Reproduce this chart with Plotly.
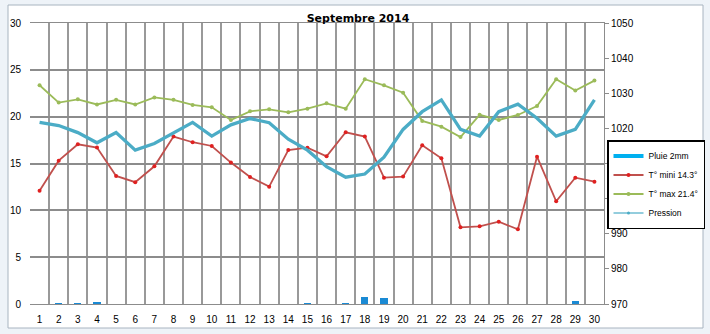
import plotly.graph_objects as go

days = list(range(1, 31))
tick_labels = [str(d) for d in days]

t_min = [12.1, 15.3, 17.05, 16.7, 13.67, 13.0, 14.7, 17.87, 17.27, 16.87,
         15.1, 13.56, 12.53, 16.44, 16.69, 15.77, 18.33, 17.87, 13.49, 13.6,
         16.94, 15.55, 8.19, 8.29, 8.79, 7.97, 15.73, 10.96, 13.49, 13.06]

t_max = [23.35, 21.5, 21.85, 21.3, 21.8, 21.3, 22.05, 21.8, 21.25, 21.0,
         19.65, 20.57, 20.78, 20.46, 20.85, 21.42, 20.85, 24.0, 23.35, 22.55,
         19.55, 18.93, 17.83, 20.2, 19.65, 20.18, 21.14, 23.99, 22.8, 23.85]

pression = [1021.7, 1020.8, 1018.8, 1015.9, 1018.8, 1013.8, 1015.7, 1018.7, 1021.7, 1017.8,
            1021.0, 1022.8, 1021.6, 1016.9, 1013.8, 1009.1, 1006.1, 1007.0, 1011.8, 1019.7,
            1024.75, 1028.1, 1019.7, 1017.8, 1024.75, 1026.9, 1022.9, 1017.8, 1019.7, 1028.1]

pluie = [0, 0.1, 0.1, 0.2, 0, 0, 0, 0, 0, 0,
         0, 0, 0, 0, 0.1, 0, 0.1, 0.78, 0.64, 0,
         0, 0, 0, 0, 0, 0, 0, 0, 0.29, 0]

names = ["Pluie 2mm", "T° mini 14.3°", "T° max 21.4°", "Pression"]

W, H = 710, 334
L, R, T, B = 30, 604, 23, 304

def px2paper_x(px):
    return (px - L) / (R - L)

def px2paper_y(py):
    return (B - py) / (B - T)

fig = go.Figure()

fig.add_trace(go.Bar(x=days, y=pluie, width=0.37, marker=dict(color="#1A8AD4", line=dict(width=0)),
                     showlegend=False, name=names[0]))
fig.add_trace(go.Scatter(x=[None], y=[None], mode="lines", name=names[0],
                         line=dict(color="#00B0F0", width=4)))
fig.add_trace(go.Scatter(x=days, y=pression, mode="lines", name=names[3], yaxis="y2",
                         line=dict(color="#4BACC6", width=3.3), showlegend=False))
fig.add_trace(go.Scatter(x=days, y=t_min, mode="lines+markers", name=names[1],
                         line=dict(color="#C0504D", width=1.8),
                         marker=dict(color="#E02020", size=4)))
fig.add_trace(go.Scatter(x=days, y=t_max, mode="lines+markers", name=names[2],
                         line=dict(color="#9BBB59", width=1.8),
                         marker=dict(color="#9BBB59", size=4)))
fig.add_trace(go.Scatter(x=[None], y=[None], mode="lines+markers", name=names[3],
                         line=dict(color="#93CDDD", width=2),
                         marker=dict(color="#4BACC6", size=3)))

fig.update_layout(
    width=W, height=H,
    margin=dict(l=L, r=W - R, t=T, b=H - B, autoexpand=False),
    paper_bgcolor="#EEF3F8",
    plot_bgcolor="#D9D9D9",
    font=dict(family="Liberation Sans, Arial, sans-serif", size=10, color="#000000"),
    title=dict(text="<b>Septembre 2014</b>", x=px2paper_x(358), xref="paper", xanchor="center",
               y=1 - 18 / H, yanchor="middle", font=dict(family="DejaVu Sans", size=11)),
    bargap=0,
    xaxis=dict(range=[0.5, 30.5], tickmode="array", tickvals=days, ticktext=tick_labels,
               showgrid=False, zeroline=False, ticks="", ticklen=0,
               showline=True, linecolor="#8C8C8C", linewidth=1, mirror=True,
               minor=dict(tickmode="linear", tick0=0.5, dtick=1, showgrid=True,
                          gridcolor="#999999", gridwidth=2, ticks=""),
               tickfont=dict(size=10), ticklabelstandoff=6, fixedrange=True),
    yaxis=dict(range=[0, 30], tickmode="linear", tick0=0, dtick=5,
               showgrid=True, gridcolor="#8C8C8C", gridwidth=1.5, zeroline=False,
               showline=False, ticks="", tickfont=dict(size=10), ticklabelstandoff=8),
    yaxis2=dict(range=[970, 1050], tickmode="linear", tick0=970, dtick=10,
                overlaying="y", side="right", showgrid=False, zeroline=False,
                showline=True, linecolor="#8C8C8C", linewidth=1,
                ticks="outside", ticklen=4, tickcolor="#8C8C8C", tickfont=dict(size=10)),
    legend=dict(x=px2paper_x(607), y=px2paper_y(140), xanchor="left", yanchor="top",
                bgcolor="#FFFFFF", bordercolor="#000000", borderwidth=1.5,
                font=dict(size=8.5), tracegroupgap=0, itemwidth=30,
                traceorder="normal"),
    shapes=[
        dict(type="rect", xref="paper", yref="paper", layer="below",
             x0=px2paper_x(8), x1=px2paper_x(703), y0=px2paper_y(328), y1=px2paper_y(5),
             fillcolor="#FFFFFF", line=dict(color="#A8B4C0", width=1)),
    ],
)

fig.write_html("out.html")
